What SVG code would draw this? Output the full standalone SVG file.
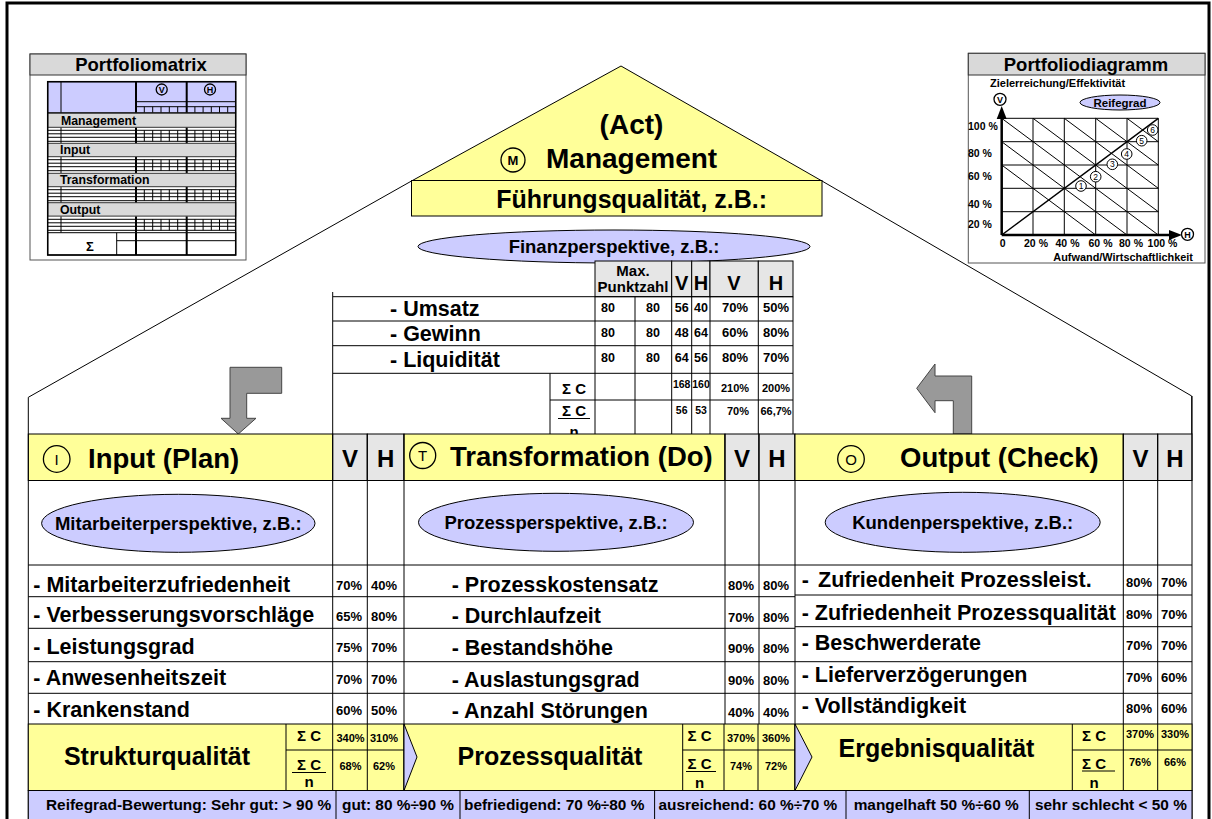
<svg xmlns="http://www.w3.org/2000/svg" width="1212" height="819" viewBox="0 0 1212 819">
<defs>
<style>
text{font-family:"Liberation Sans",Arial,sans-serif;font-weight:bold;fill:#000}
.m{text-anchor:middle}
.n{font-weight:normal}
.l{stroke:#000;stroke-width:1;fill:none}
.l2{stroke:#000;stroke-width:2;fill:none}
.yel{fill:#ffff99;stroke:#000;stroke-width:1}
.lav{fill:#ccccff;stroke:#000;stroke-width:1}
.gry{fill:#e6e6e6;stroke:#000;stroke-width:1}
.bar{fill:#d9d9d9;stroke:#333;stroke-width:1}
.arw{fill:#999999;stroke:#444;stroke-width:1}
.ring{fill:none;stroke:#000;stroke-width:1.3}
.v{font-size:13px}
.row{font-size:21.5px}
.ell{font-size:18.5px}
</style>
<g id="rg">
<path class="l" d="M47.7,3H235.7M47.7,6.5H235.7M47.7,10H235.7M47.7,14H235.7"/>
<path class="l" d="M144.3,3V14M152.7,3V14M161,3V14M169.3,3V14M177.7,3V14M194.9,3V14M203.1,3V14M211.3,3V14M219.5,3V14M227.7,3V14"/>
<path class="l2" d="M136,0V16.4M186.7,0V16.4"/>
<path class="l" d="M61,0V16.4"/>
</g>
</defs>
<rect x="0" y="0" width="1212" height="819" fill="#fff"/>

<g id="frame">
<path d="M7,819V3H1209V819" fill="none" stroke="#000" stroke-width="3"/>
</g>

<g id="roof">
<polyline class="l" points="28.3,434 28.3,397.3 411.5,181"/>
<polyline class="l" points="822,181 1191.7,396 1191.7,434"/>
</g>

<g id="portfoliomatrix">
<rect x="30" y="54" width="216" height="206" fill="#fff" stroke="#555"/>
<rect class="bar" x="30" y="54" width="216" height="21"/>
<text x="141" y="71" font-size="18.5" class="m">Portfoliomatrix</text>
<rect class="lav" x="47.7" y="81.7" width="188" height="31"/>
<path class="l2" d="M136,81.7V112.7M186.7,81.7V112.7"/>
<path class="l" d="M61,81.7V112.7M136,101.7H235.7M136,106.7H235.7"/>
<path class="l" d="M144.3,106.7V112.7M152.7,106.7V112.7M161,106.7V112.7M169.3,106.7V112.7M177.7,106.7V112.7M194.9,106.7V112.7M203.1,106.7V112.7M211.3,106.7V112.7M219.5,106.7V112.7M227.7,106.7V112.7"/>
<circle class="ring" cx="161.7" cy="89.5" r="5.5"/>
<text x="161.7" y="92.8" font-size="9" class="m">V</text>
<circle class="ring" cx="210" cy="89.5" r="5.5"/>
<text x="210" y="92.8" font-size="9" class="m">H</text>
<use href="#rg" x="0" y="127.3"/>
<use href="#rg" x="0" y="156.7"/>
<use href="#rg" x="0" y="186.7"/>
<use href="#rg" x="0" y="216.3"/>
<rect class="bar" x="47.7" y="113.3" width="188" height="14"/>
<text x="61" y="124.5" font-size="12.3">Management</text>
<rect class="bar" x="47.7" y="143.3" width="188" height="13.4"/>
<text x="60" y="154.3" font-size="12.3">Input</text>
<rect class="bar" x="47.7" y="173.3" width="188" height="13.4"/>
<text x="60" y="184.3" font-size="12.3">Transformation</text>
<rect class="bar" x="47.7" y="202.7" width="188" height="13.4"/>
<text x="60" y="213.6" font-size="12.3">Output</text>
<rect x="47.7" y="232.7" width="188" height="22.3" fill="#fff" stroke="#000"/>
<path class="l" d="M116.7,232.7V255M116.7,240.7H235.7"/>
<path class="l2" d="M136,232.7V255M186.7,232.7V255"/>
<text x="90" y="251" font-size="13" class="m">Σ</text>
<rect x="47.7" y="81.7" width="188" height="173.3" fill="none" stroke="#000" stroke-width="1.5"/>
</g>

<g id="portfoliodiagramm">
<rect x="968.3" y="53.3" width="236.7" height="209.7" fill="#fff" stroke="#555"/>
<rect class="bar" x="968.3" y="53.3" width="236.7" height="21.7"/>
<text x="1086" y="70.5" font-size="18.5" class="m">Portfoliodiagramm</text>
<text x="990" y="86.5" font-size="11">Zielerreichung/Effektivität</text>
<circle class="ring" cx="1000" cy="99.3" r="6"/>
<text x="1000" y="102.6" font-size="9" class="m">V</text>
<ellipse class="lav" cx="1120" cy="102.5" rx="40" ry="7.5"/>
<text x="1120" y="106.5" font-size="11.5" class="m">Reifegrad</text>
<path class="l" d="M1001.7,118.3H1158.3M1001.7,141.7H1158.3M1001.7,165H1158.3M1001.7,188.3H1158.3M1001.7,211.7H1158.3"/>
<path class="l" d="M1033,118.3V235M1064.3,118.3V235M1095.7,118.3V235M1127,118.3V235M1158.3,118.3V235"/>
<path class="l" d="M1001.7,118.3L1158.3,235M1033,118.3L1158.3,211.7M1064.3,118.3L1158.3,188.3M1095.7,118.3L1158.3,165M1127,118.3L1158.3,141.7M1001.7,141.7L1127,235M1001.7,165L1095.7,235"/>
<path d="M1001.7,235L1158.3,118.3" stroke="#000" stroke-width="1.5"/>
<path d="M1001.7,235V116M1001.7,235H1171" stroke="#000" stroke-width="2.5"/>
<polygon points="1001.7,106 996.7,119 1006.7,119" fill="#000"/>
<polygon points="1182,235 1169,230 1169,240" fill="#000"/>
<circle class="ring" cx="1187.5" cy="234.3" r="6"/>
<text x="1187.5" y="237.6" font-size="9" class="m">H</text>
<text x="968" y="129.5" font-size="10.5">100 %</text>
<text x="968" y="156.5" font-size="10.5">80 %</text>
<text x="968" y="179.5" font-size="10.5">60 %</text>
<text x="968" y="207.5" font-size="10.5">40 %</text>
<text x="968" y="227.5" font-size="10.5">20 %</text>
<text x="1002.7" y="246.5" font-size="10.5" class="m">0</text>
<text x="1036" y="246.5" font-size="10.5" class="m">20 %</text>
<text x="1067.5" y="246.5" font-size="10.5" class="m">40 %</text>
<text x="1100.5" y="246.5" font-size="10.5" class="m">60 %</text>
<text x="1131" y="246.5" font-size="10.5" class="m">80 %</text>
<text x="1162.5" y="246.5" font-size="10.5" class="m">100 %</text>
<text x="1193" y="261" font-size="10.9" text-anchor="end">Aufwand/Wirtschaftlichkeit</text>
<g font-size="8.5" class="n">
<circle cx="1081" cy="186" r="5.3" fill="#fff" stroke="#000"/><text x="1081" y="189" class="m n">1</text>
<circle cx="1095.7" cy="176.7" r="5.3" fill="#fff" stroke="#000"/><text x="1095.7" y="179.7" class="m n">2</text>
<circle cx="1112.3" cy="164.3" r="5.3" fill="#fff" stroke="#000"/><text x="1112.3" y="167.3" class="m n">3</text>
<circle cx="1126.7" cy="154" r="5.3" fill="#fff" stroke="#000"/><text x="1126.7" y="157" class="m n">4</text>
<circle cx="1141.7" cy="140.7" r="5.3" fill="#fff" stroke="#000"/><text x="1141.7" y="143.7" class="m n">5</text>
<circle cx="1152.7" cy="130" r="5.3" fill="#fff" stroke="#000"/><text x="1152.7" y="133" class="m n">6</text>
</g>
</g>

<g id="management">
<polygon class="yel" points="411.5,181 621,66 822,181"/>
<rect class="yel" x="411.5" y="180.5" width="410.5" height="35.5"/>
<text x="631.5" y="134" font-size="28" class="m">(Act)</text>
<circle class="ring" cx="513" cy="160" r="12" stroke-width="1.5"/>
<text x="513" y="164.5" font-size="13" class="m">M</text>
<text x="546" y="168" font-size="28">Management</text>
<text x="631.7" y="208" font-size="25" class="m">Führungsqualität, z.B.:</text>
</g>

<g id="finanzperspektive">
<ellipse class="lav" cx="614" cy="246.5" rx="196" ry="16.5"/>
<text x="614" y="253" class="ell m">Finanzperspektive, z.B.:</text>
<rect class="gry" x="595" y="261" width="76.7" height="35.7"/>
<rect class="gry" x="671.7" y="261" width="20" height="35.7"/>
<rect class="gry" x="691.7" y="261" width="18.3" height="35.7"/>
<rect class="gry" x="710" y="261" width="48.3" height="35.7"/>
<rect class="gry" x="758.3" y="261" width="34.7" height="35.7"/>
<text x="633" y="276" font-size="15" class="m">Max.</text>
<text x="633" y="292" font-size="15" class="m">Punktzahl</text>
<text x="681.7" y="290" font-size="20" class="m">V</text>
<text x="701" y="290" font-size="20" class="m">H</text>
<text x="734" y="290" font-size="20" class="m">V</text>
<text x="776" y="290" font-size="20" class="m">H</text>
<path class="l" d="M332.7,292V434M333,296.7H793M333,321H793M333,345.7H793M333,373.3H793M550,400H793M550,373.3V434M595,296.7V434M635,296.7V434M671.7,296.7V434M691.7,296.7V434M710,296.7V434M758.3,296.7V434M793,296.7V434M558,418.5H590"/>
<text x="390" y="316" class="row">- Umsatz</text>
<text x="390" y="341" class="row">- Gewinn</text>
<text x="390" y="366.5" class="row">- Liquidität</text>
<g font-size="12.5" class="m">
<text x="608" y="311.5">80</text><text x="653" y="311.5">80</text><text x="681.7" y="311.5">56</text><text x="701" y="311.5">40</text>
<text x="608" y="336.5">80</text><text x="653" y="336.5">80</text><text x="681.7" y="336.5">48</text><text x="701" y="336.5">64</text>
<text x="608" y="361.5">80</text><text x="653" y="361.5">80</text><text x="681.7" y="361.5">64</text><text x="701" y="361.5">56</text>
</g>
<g class="v m">
<text x="735" y="311.5">70%</text><text x="776" y="311.5">50%</text>
<text x="735" y="336.5">60%</text><text x="776" y="336.5">80%</text>
<text x="735" y="361.5">80%</text><text x="776" y="361.5">70%</text>
</g>
<text x="574" y="394" font-size="15" class="m">Σ C</text>
<text x="574" y="416" font-size="15" class="m">Σ C</text>
<text x="574" y="437" font-size="15" class="m">n</text>
<g font-size="10.5" class="m">
<text x="681.7" y="388">168</text><text x="701" y="388">160</text>
<text x="681.7" y="414">56</text><text x="701" y="414">53</text>
</g>
<g font-size="11" class="m">
<text x="735" y="392">210%</text><text x="776" y="392">200%</text>
<text x="738" y="415">70%</text><text x="776" y="415">66,7%</text>
</g>
</g>

<g id="connectors">
<polygon class="arw" points="230,367.3 281.7,367.3 281.7,393.3 246.7,393.3 246.7,418.3 256,418.3 238.3,434 221,418.3 230,418.3"/>
<polygon class="arw" points="953.3,434 971.7,434 971.7,376 935,376 935,364 916.7,388.3 935,412.7 935,400.7 953.3,400.7"/>
</g>

<g id="input">
<rect class="yel" x="28.3" y="434" width="304.4" height="46.5"/>
<rect class="gry" x="332.7" y="434" width="34.6" height="46.5"/>
<rect class="gry" x="367.3" y="434" width="36.7" height="46.5"/>
<circle class="ring" cx="56.7" cy="459" r="13.3"/>
<text x="56.7" y="464.5" font-size="15" class="m n">I</text>
<text x="88" y="468" font-size="27.5">Input (Plan)</text>
<text x="350" y="467" font-size="24" class="m">V</text>
<text x="385.7" y="467" font-size="24" class="m">H</text>
<ellipse class="lav" cx="178.3" cy="523.3" rx="136.7" ry="29"/>
<text x="178.3" y="530" class="ell m">Mitarbeiterperspektive, z.B.:</text>
<path class="l" d="M28.3,480.5H404M28.3,565H404M28.3,596.7H404M28.3,628.3H404M28.3,661.7H404M28.3,693.3H404M332.7,434V724M367.3,434V724M28.3,434V819"/>
<text x="33.3" y="592" class="row">- Mitarbeiterzufriedenheit</text>
<text x="33.3" y="622" class="row">- Verbesserungsvorschläge</text>
<text x="33.3" y="653.5" class="row">- Leistungsgrad</text>
<text x="33.3" y="685" class="row">- Anwesenheitszeit</text>
<text x="33.3" y="716.5" class="row">- Krankenstand</text>
<g class="v m">
<text x="349" y="590">70%</text><text x="384" y="590">40%</text>
<text x="349" y="621">65%</text><text x="384" y="621">80%</text>
<text x="349" y="652">75%</text><text x="384" y="652">70%</text>
<text x="349" y="684">70%</text><text x="384" y="684">70%</text>
<text x="349" y="715">60%</text><text x="384" y="715">50%</text>
</g>
</g>

<g id="transformation">
<rect class="yel" x="404" y="434" width="321" height="46.5"/>
<rect class="gry" x="725" y="434" width="34" height="46.5"/>
<rect class="gry" x="759" y="434" width="36" height="46.5"/>
<circle class="ring" cx="422.7" cy="455.5" r="13"/>
<text x="422.7" y="461" font-size="15" class="m n">T</text>
<text x="450" y="466" font-size="27.5">Transformation (Do)</text>
<text x="742" y="467" font-size="24" class="m">V</text>
<text x="777" y="467" font-size="24" class="m">H</text>
<ellipse class="lav" cx="556" cy="522.3" rx="137.5" ry="29"/>
<text x="556" y="529" class="ell m">Prozessperspektive, z.B.:</text>
<path class="l" d="M404,480.5H795M404,565H795M404,596.7H795M404,628.3H795M404,661.7H795M404,693.3H795M725,434V724M759,434V724M404,434V724M795,434V724"/>
<text x="451.7" y="592" class="row">- Prozesskostensatz</text>
<text x="451.7" y="623" class="row">- Durchlaufzeit</text>
<text x="451.7" y="655" class="row">- Bestandshöhe</text>
<text x="451.7" y="687" class="row">- Auslastungsgrad</text>
<text x="451.7" y="718" class="row">- Anzahl Störungen</text>
<g class="v m">
<text x="741" y="590">80%</text><text x="776" y="590">80%</text>
<text x="741" y="621.5">70%</text><text x="776" y="621.5">80%</text>
<text x="741" y="653">90%</text><text x="776" y="653">80%</text>
<text x="741" y="685">90%</text><text x="776" y="685">80%</text>
<text x="741" y="716.5">40%</text><text x="776" y="716.5">40%</text>
</g>
</g>

<g id="output">
<rect class="yel" x="795" y="434" width="328.3" height="46.5"/>
<rect class="gry" x="1123.3" y="434" width="34.4" height="46.5"/>
<rect class="gry" x="1157.7" y="434" width="34.3" height="46.5"/>
<circle class="ring" cx="851" cy="459" r="13.3"/>
<text x="851" y="464.5" font-size="15" class="m n">O</text>
<text x="900" y="467" font-size="27.5">Output (Check)</text>
<text x="1140.5" y="467" font-size="24" class="m">V</text>
<text x="1175" y="467" font-size="24" class="m">H</text>
<ellipse class="lav" cx="962.7" cy="522.3" rx="137.5" ry="30"/>
<text x="962.7" y="529" class="ell m">Kundenperspektive, z.B.:</text>
<path class="l" d="M795,480.5H1192M795,565H1192M795,595H1192M795,626.7H1192M795,661.7H1192M795,693.3H1192M1123.3,434V724M1157.7,434V724M1192,396V819"/>
<text x="801.7" y="587" class="row">-</text>
<text x="818" y="587" class="row">Zufriedenheit Prozessleist.</text>
<text x="801.7" y="620" class="row">- Zufriedenheit Prozessqualität</text>
<text x="801.7" y="650" class="row">- Beschwerderate</text>
<text x="801.7" y="682" class="row">- Lieferverzögerungen</text>
<text x="801.7" y="713" class="row">- Vollständigkeit</text>
<g class="v m">
<text x="1139" y="587">80%</text><text x="1174" y="587">70%</text>
<text x="1139" y="618.5">80%</text><text x="1174" y="618.5">70%</text>
<text x="1139" y="650">70%</text><text x="1174" y="650">70%</text>
<text x="1139" y="681.5">70%</text><text x="1174" y="681.5">60%</text>
<text x="1139" y="713">80%</text><text x="1174" y="713">60%</text>
</g>
</g>

<g id="qualitaet">
<rect class="yel" x="28.3" y="724" width="1163.7" height="66.5"/>
<path class="l" d="M286,724V790.5M286,750H404M332.7,724V790.5M367.3,724V790.5M292,772.5H326M682.7,724V790.5M682.7,750H795M724,724V790.5M758,724V790.5M686,771.5H716M1072.3,724V790.5M1072.3,750H1192M1123.3,724V790.5M1157.7,724V790.5M1082,771H1115"/>
<path d="M404,724V790.5M795,724V790.5" stroke="#000" stroke-width="1.5"/>
<polygon class="lav" points="404,724 417,757 404,790.5"/>
<polygon class="lav" points="795,724 812,757 795,790.5"/>
<text x="157" y="765" font-size="25" class="m">Strukturqualität</text>
<text x="550" y="765" font-size="25" class="m">Prozessqualität</text>
<text x="936.5" y="757" font-size="25" class="m">Ergebnisqualität</text>
<g font-size="15" class="m">
<text x="309" y="741">Σ C</text><text x="309" y="770">Σ C</text><text x="309" y="787">n</text>
<text x="699.5" y="741">Σ C</text><text x="699.5" y="768.5">Σ C</text><text x="699.5" y="788">n</text>
<text x="1094" y="741">Σ C</text><text x="1094" y="768.5">Σ C</text><text x="1094" y="788">n</text>
</g>
<g font-size="11" class="m">
<text x="350.5" y="741.5">340%</text><text x="384" y="741.5">310%</text>
<text x="350.5" y="769.5">68%</text><text x="384" y="769.5">62%</text>
<text x="741" y="742">370%</text><text x="776" y="742">360%</text>
<text x="741" y="769.5">74%</text><text x="776" y="769.5">72%</text>
<text x="1140" y="738">370%</text><text x="1175" y="738">330%</text>
<text x="1140" y="766">76%</text><text x="1175" y="766">66%</text>
</g>
</g>

<g id="reifegrad-skala">
<rect class="lav" x="28.3" y="790.5" width="1163.7" height="32"/>
<path class="l" d="M336,790.5V819M460,790.5V819M654.6,790.5V819M846,790.5V819M1029.3,790.5V819"/>
<g font-size="15.4">
<text x="46" y="810">Reifegrad-Bewertung: Sehr gut: &gt; 90 %</text>
<text x="342" y="810">gut: 80 %÷90 %</text>
<text x="464" y="810">befriedigend: 70 %÷80 %</text>
<text x="658.5" y="810">ausreichend: 60 %÷70 %</text>
<text x="853.7" y="810">mangelhaft 50 %÷60 %</text>
<text x="1035" y="810">sehr schlecht &lt; 50 %</text>
</g>
</g>
</svg>
